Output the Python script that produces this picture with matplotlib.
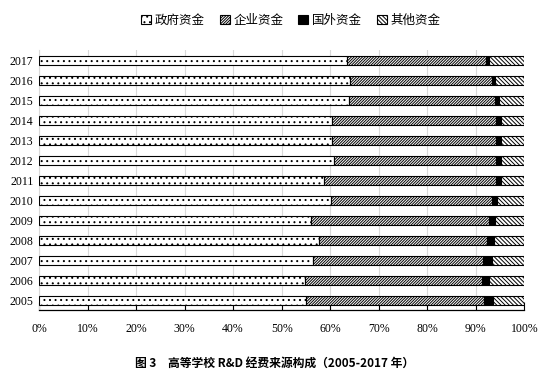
import matplotlib
matplotlib.use("Agg")
import matplotlib.pyplot as plt
import numpy as np

plt.rcParams['font.family'] = ['Noto Sans CJK SC', 'DejaVu Sans']
plt.rcParams['hatch.linewidth'] = 0.7

# data (shares, %)
years = ['2005', '2006', '2007', '2008', '2009', '2010', '2011',
         '2012', '2013', '2014', '2015', '2016', '2017']
gov = [55.0, 54.8, 56.4, 57.7, 56.1, 60.1, 58.8, 60.8, 60.3, 60.3, 63.8, 64.1, 63.4]
ent = [36.6, 36.5, 35.1, 34.6, 36.6, 33.3, 35.4, 33.4, 33.9, 33.9, 30.2, 29.3, 28.8]
foreign = [1.9, 1.5, 1.8, 1.4, 1.3, 1.0, 1.0, 1.0, 1.0, 1.0, 0.8, 0.6, 0.5]
other = [100 - g - e - f for g, e, f in zip(gov, ent, foreign)]
labels = ['政府资金', '企业资金', '国外资金', '其他资金']
xticks = [0, 10, 20, 30, 40, 50, 60, 70, 80, 90, 100]

fig = plt.figure(figsize=(5.49, 3.80), dpi=100)
ax = fig.add_axes([0.071, 0.184, 0.884, 0.684])

y = np.arange(len(years))
h = 0.45
left = np.zeros(len(years))
styles = [dict(color='white', hatch='...'),
          dict(color='white', hatch='/' * 12),
          dict(color='black', hatch=None),
          dict(color='white', hatch='\\' * 8)]
for vals, lab, st in zip([gov, ent, foreign, other], labels, styles):
    ax.barh(y, vals, height=h, left=left, color=st['color'], hatch=st['hatch'],
            edgecolor='black', linewidth=0.8, label=lab, zorder=3)
    left = left + np.array(vals)

ax.set_xlim(0, 100)
ax.set_ylim(-0.5, len(years) - 0.5)
ax.set_xticks(xticks)
ax.set_xticklabels([f'{v}%' for v in xticks], fontsize=8.5, family='Liberation Serif')
ax.set_yticks(y)
ax.set_yticklabels(years, fontsize=8.5, family='Liberation Serif')
ax.tick_params(axis='x', direction='in', length=6, width=0.8, pad=9)
ax.tick_params(axis='y', length=0, pad=4)
ax.grid(axis='x', color='#d9d9d9', linewidth=0.8, zorder=0)
for s in ['top', 'right']:
    ax.spines[s].set_visible(False)
ax.spines['left'].set_color('#d9d9d9')
ax.spines['bottom'].set_linewidth(0.9)

fig.legend(loc='center', bbox_to_anchor=(0.53, 0.947), ncol=4, frameon=False,
           fontsize=9, handlelength=0.8, handleheight=0.8, handletextpad=0.3,
           columnspacing=1.2)

fig.text(0.5, 0.045, '图 3　高等学校 R&D 经费来源构成（2005-2017 年）',
         ha='center', va='center', fontsize=8.5, fontweight='bold')

fig.savefig('out.png', dpi=100)
